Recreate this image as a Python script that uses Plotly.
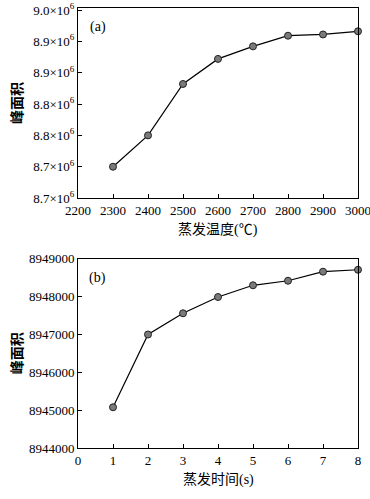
import plotly.graph_objects as go

# Data
temp_x = [2300, 2400, 2500, 2600, 2700, 2800, 2900, 3000]
temp_area = [8.700e6, 8.750e6, 8.832e6, 8.872e6, 8.892e6, 8.909e6, 8.911e6, 8.916e6]
time_x = [1, 2, 3, 4, 5, 6, 7, 8]
time_area = [8945077, 8947000, 8947560, 8947990, 8948300, 8948420, 8948660, 8948710]

top_ytickvals = [8.65e6, 8.70e6, 8.75e6, 8.80e6, 8.85e6, 8.90e6, 8.95e6]
top_yticktext = ["8.7×10<sup>6</sup>", "8.7×10<sup>6</sup>", "8.8×10<sup>6</sup>", "8.8×10<sup>6</sup>",
                 "8.9×10<sup>6</sup>", "8.9×10<sup>6</sup>", "9.0×10<sup>6</sup>"]

FONT = "'Liberation Serif', 'Times New Roman', 'Noto Sans CJK SC', serif"
CJK = "'Liberation Serif', 'Noto Sans CJK SC', serif"

fig = go.Figure()
marker = dict(size=7, color="#7a7a7a", line=dict(color="#222222", width=1))
fig.add_trace(go.Scatter(x=temp_x, y=temp_area, mode="lines+markers",
                         line=dict(color="black", width=1.2), marker=marker,
                         xaxis="x", yaxis="y", showlegend=False, cliponaxis=False))
fig.add_trace(go.Scatter(x=time_x, y=time_area, mode="lines+markers",
                         line=dict(color="black", width=1.2), marker=marker,
                         xaxis="x2", yaxis="y2", showlegend=False, cliponaxis=False))

axis_common = dict(showline=True, linecolor="black", linewidth=1, mirror=True,
                   ticks="inside", ticklen=4, tickcolor="black", showgrid=False,
                   zeroline=False, ticklabeloverflow="allow", automargin=False,
                   tickfont=dict(family=FONT, size=13, color="black"))

fig.update_layout(
    width=370, height=499,
    margin=dict(l=78, r=12, t=8, b=51),
    paper_bgcolor="white", plot_bgcolor="white",
    font=dict(family=FONT, size=13, color="black"),
    xaxis=dict(domain=[0, 1], anchor="y", range=[2200, 3000], tickmode="linear",
               tick0=2200, dtick=100, **axis_common),
    yaxis=dict(domain=[0.568, 1], anchor="x", range=[8.65e6, 8.9532e6],
               tickvals=top_ytickvals, ticktext=top_yticktext, **axis_common),
    xaxis2=dict(domain=[0, 1], anchor="y2", range=[0, 8], tickmode="linear",
                tick0=0, dtick=1, **axis_common),
    yaxis2=dict(domain=[0, 0.430], anchor="x2", range=[8944000, 8949000],
                tickmode="linear", tick0=8944000, dtick=1000, tickformat="d",
                **axis_common),
    annotations=[
        dict(text="(a)", xref="x domain", yref="y domain", x=0.07, y=0.9,
             showarrow=False, xanchor="center", yanchor="middle",
             font=dict(family=FONT, size=14)),
        dict(text="(b)", xref="x2 domain", yref="y2 domain", x=0.07, y=0.9,
             showarrow=False, xanchor="center", yanchor="middle",
             font=dict(family=FONT, size=14)),
        dict(text="<b>峰面积</b>", xref="paper", yref="y domain", x=-0.218, y=0.5,
             textangle=-90, showarrow=False, xanchor="center", yanchor="middle",
             font=dict(family=CJK, size=14)),
        dict(text="<b>峰面积</b>", xref="paper", yref="y2 domain", x=-0.218, y=0.5,
             textangle=-90, showarrow=False, xanchor="center", yanchor="middle",
             font=dict(family=CJK, size=14)),
        dict(text="蒸发温度(℃)", xref="x domain", yref="paper", x=0.5, y=0.568,
             yshift=-32, showarrow=False, xanchor="center", yanchor="middle",
             font=dict(family=CJK, size=14)),
        dict(text="蒸发时间(s)", xref="x2 domain", yref="paper", x=0.5, y=0,
             yshift=-32, showarrow=False, xanchor="center", yanchor="middle",
             font=dict(family=CJK, size=14)),
    ],
)

fig.write_html("out.html", config={"displayModeBar": False},
               post_script="document.body.style.margin='0';document.body.style.overflow='hidden';")
